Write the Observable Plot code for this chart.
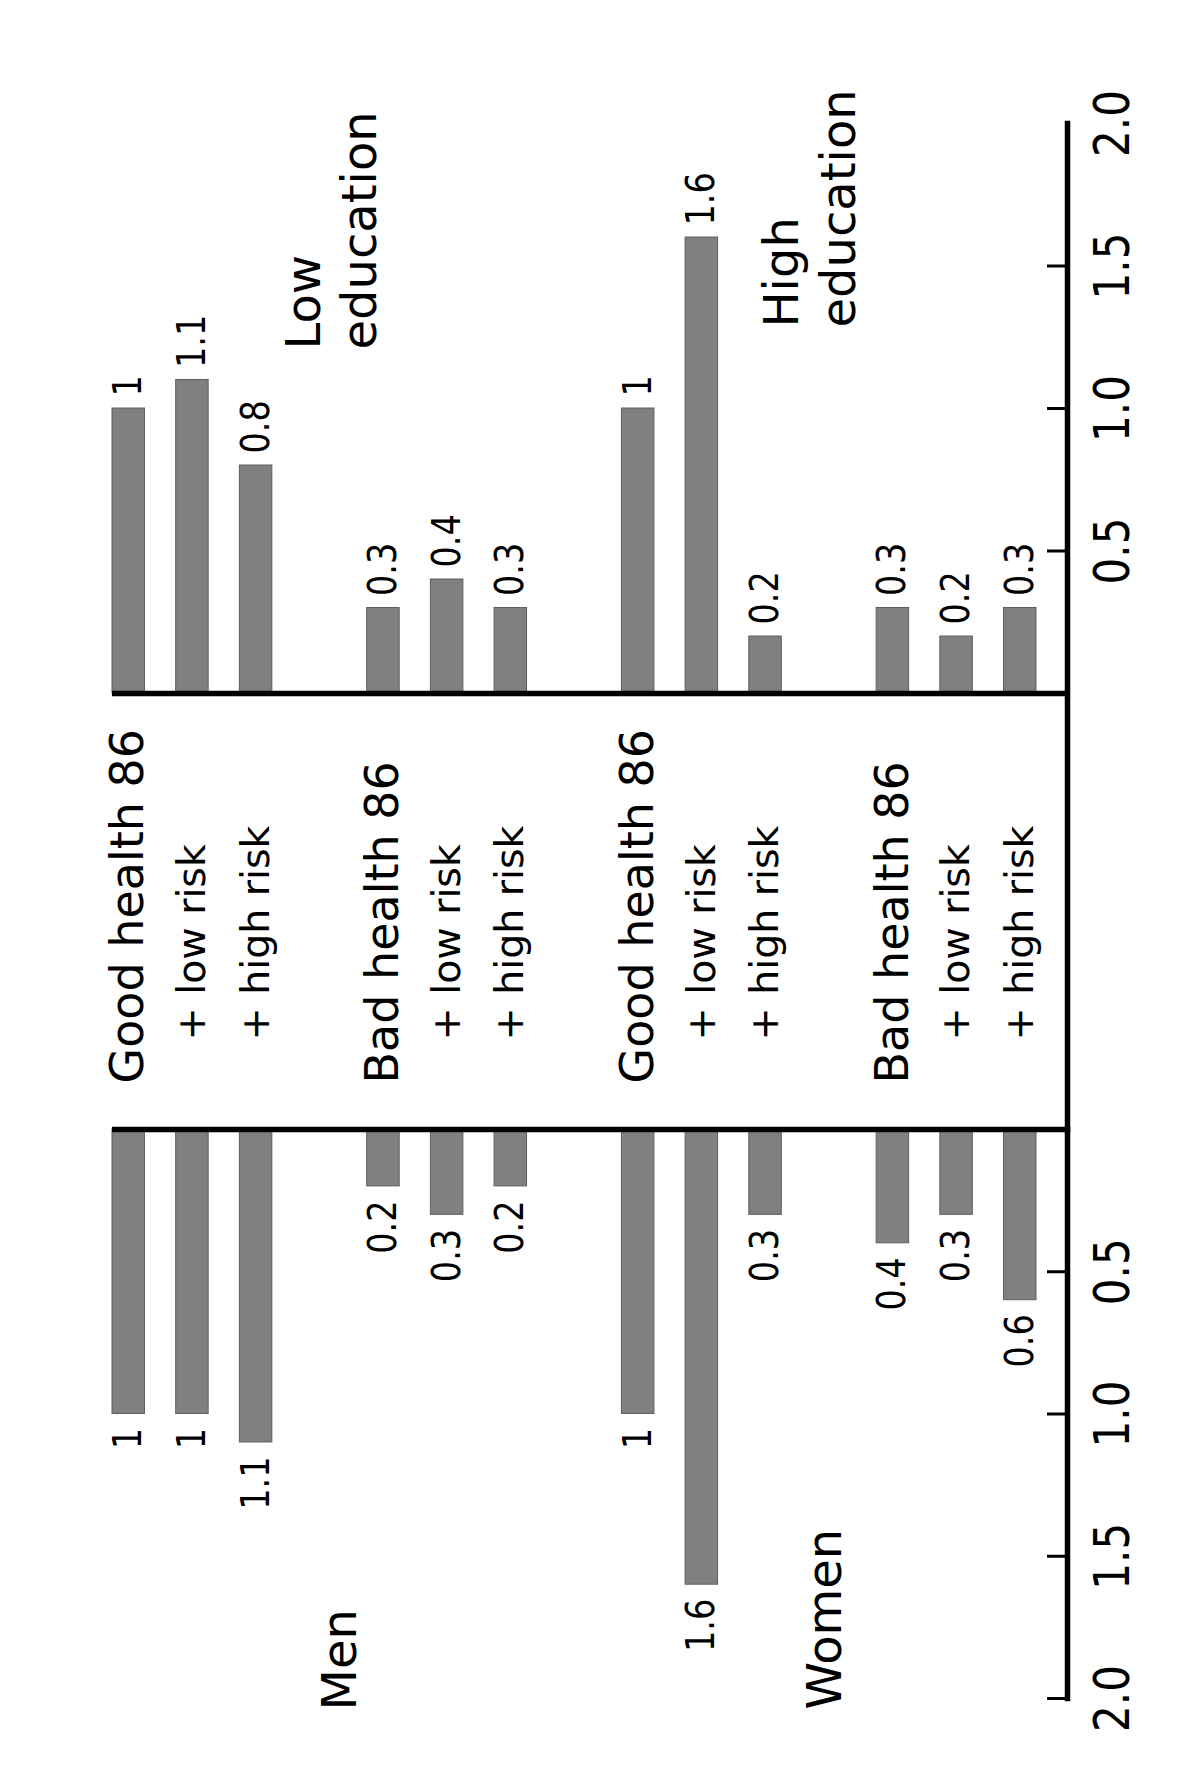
<!DOCTYPE html>
<html>
<head>
<meta charset="utf-8">
<script src="https://cdn.jsdelivr.net/npm/d3@7"></script>
<script src="https://cdn.jsdelivr.net/npm/@observablehq/plot@0.6"></script>
<style>
  html, body { margin: 0; padding: 0; background: #fff; }
  #chart { position: relative; width: 1200px; height: 1765px; overflow: hidden; background: #fff; }
</style>
</head>
<body>
<div id="chart"></div>
<script>
// ---- data ----
const rowLabels = [
  "Good health 86", "+ low risk", "+ high risk",
  "Bad health 86", "+ low risk", "+ high risk",
  "Good health 86", "+ low risk", "+ high risk",
  "Bad health 86", "+ low risk", "+ high risk"
];
const upperValues = [1, 1.1, 0.8, 0.3, 0.4, 0.3, 1, 1.6, 0.2, 0.3, 0.2, 0.3];
const lowerValues = [1, 1, 1.1, 0.2, 0.3, 0.2, 1, 1.6, 0.3, 0.4, 0.3, 0.6];
const tickValues = [0.5, 1, 1.5, 2];
const upperTickMarks = [0.5, 1, 1.5];
const lowerTickMarks = [0.5, 1, 1.5, 2];
const upperNotes = ["Low\neducation", "High\neducation"];
const lowerNotes = ["Men", "Women"];

// ---- derived tables ----
const slots = [];
rowLabels.forEach((_, i) => {
  slots.push("r" + i);
  if (i % 3 === 2 && i < rowLabels.length - 1) slots.push("gap" + ((i + 1) / 3));
});
const rows = rowLabels.map((label, i) => ({slot: "r" + i, label, heading: !label.startsWith("+")}));
const upperData = rows.map((r, i) => ({...r, value: upperValues[i]}));
const lowerData = rows.map((r, i) => ({...r, value: lowerValues[i]}));

const FONT = "DejaVu Sans";
const barFill = "#808080";
const barStroke = "#5e5e5e";
const lineW = 5.5;
const fmtValue = d => String(d);
const fmtTick = d3.format(".1f");
const xScale = {type: "band", domain: slots, paddingInner: 0.49, paddingOuter: 0, round: false, insetRight: 31, axis: null};
const frameW = 1200 - 112 - 133;
const T = {rotate: -90, lineAnchor: "middle", fill: "#000"};

// ---- upper panel + row labels ----
const upper = Plot.plot({
  width: 1200, height: 1129,
  marginTop: 123, marginBottom: 436, marginLeft: 112, marginRight: 133,
  style: {fontFamily: FONT, background: "transparent", overflow: "visible"},
  x: xScale,
  y: {domain: [0, 2], axis: null},
  marks: [
    Plot.barY(upperData, {x: "slot", y: "value", fill: barFill, stroke: barStroke, strokeWidth: 1}),
    Plot.text(upperData, {...T, x: "slot", y: "value", text: d => fmtValue(d.value), textAnchor: "start", dy: -12, fontSize: 39, className: "numlab"}),
    Plot.ruleY([0], {stroke: "#000", strokeWidth: lineW}),
    Plot.ruleY(upperTickMarks, {stroke: "#000", strokeWidth: 3, insetLeft: frameW - 20}),
    Plot.text(tickValues, {...T, y: d => d, text: fmtTick, frameAnchor: "right", textAnchor: "middle", dx: 46, fontSize: 49, className: "numlab"}),
    Plot.frame({anchor: "right", stroke: "#000", strokeWidth: lineW, insetBottom: -436}),
    // row labels in the middle band
    Plot.text(rows.filter(d => d.heading), {...T, x: "slot", text: "label", frameAnchor: "bottom", dy: 390, textAnchor: "start", fontSize: 46}),
    Plot.text(rows.filter(d => !d.heading), {...T, x: "slot", text: "label", frameAnchor: "bottom", dy: 347, textAnchor: "start", fontSize: 39.5}),
    // group notes
    Plot.text([upperNotes[0]], {...T, x: () => "gap1", text: d => d, frameAnchor: "top", dy: 226, dx: 10, textAnchor: "start", fontSize: 48, lineHeight: 1.18}),
    Plot.text([upperNotes[1]], {...T, x: () => "gap3", text: d => d, frameAnchor: "top", dy: 204, dx: -21, textAnchor: "start", fontSize: 48, lineHeight: 1.18})
  ]
});

// ---- lower panel ----
const lower = Plot.plot({
  width: 1200, height: 665,
  marginTop: 29, marginBottom: 67, marginLeft: 112, marginRight: 133,
  style: {fontFamily: FONT, background: "transparent", overflow: "visible"},
  x: xScale,
  y: {domain: [0, 2], reverse: true, axis: null},
  marks: [
    Plot.barY(lowerData, {x: "slot", y: "value", fill: barFill, stroke: barStroke, strokeWidth: 1}),
    Plot.text(lowerData, {...T, x: "slot", y: "value", text: d => fmtValue(d.value), textAnchor: "end", dy: 14, fontSize: 39, className: "numlab"}),
    Plot.ruleY([0], {stroke: "#000", strokeWidth: lineW}),
    Plot.ruleY(lowerTickMarks, {stroke: "#000", strokeWidth: 3, insetLeft: frameW - 20}),
    Plot.text(tickValues, {...T, y: d => d, text: fmtTick, frameAnchor: "right", textAnchor: "middle", dx: 46, fontSize: 49, className: "numlab"}),
    Plot.frame({anchor: "right", stroke: "#000", strokeWidth: lineW}),
    Plot.text([lowerNotes[0]], {...T, x: () => "gap1", text: d => d, frameAnchor: "bottom", dy: 12, dx: 21, textAnchor: "start", fontSize: 48}),
    Plot.text([lowerNotes[1]], {...T, x: () => "gap3", text: d => d, frameAnchor: "bottom", dy: 11, dx: -4, textAnchor: "start", fontSize: 48})
  ]
});

// slightly condensed numerals, as in the original
for (const svg of [upper, lower]) {
  d3.select(svg).selectAll(".numlab text").attr("transform", function () {
    return (this.getAttribute("transform") || "") + " scale(0.86,1)";
  });
}

const chart = document.getElementById("chart");
upper.style.position = "absolute"; upper.style.left = "0px"; upper.style.top = "0px";
lower.style.position = "absolute"; lower.style.left = "0px"; lower.style.top = "1100px";
chart.appendChild(upper);
chart.appendChild(lower);
</script>
</body>
</html>
